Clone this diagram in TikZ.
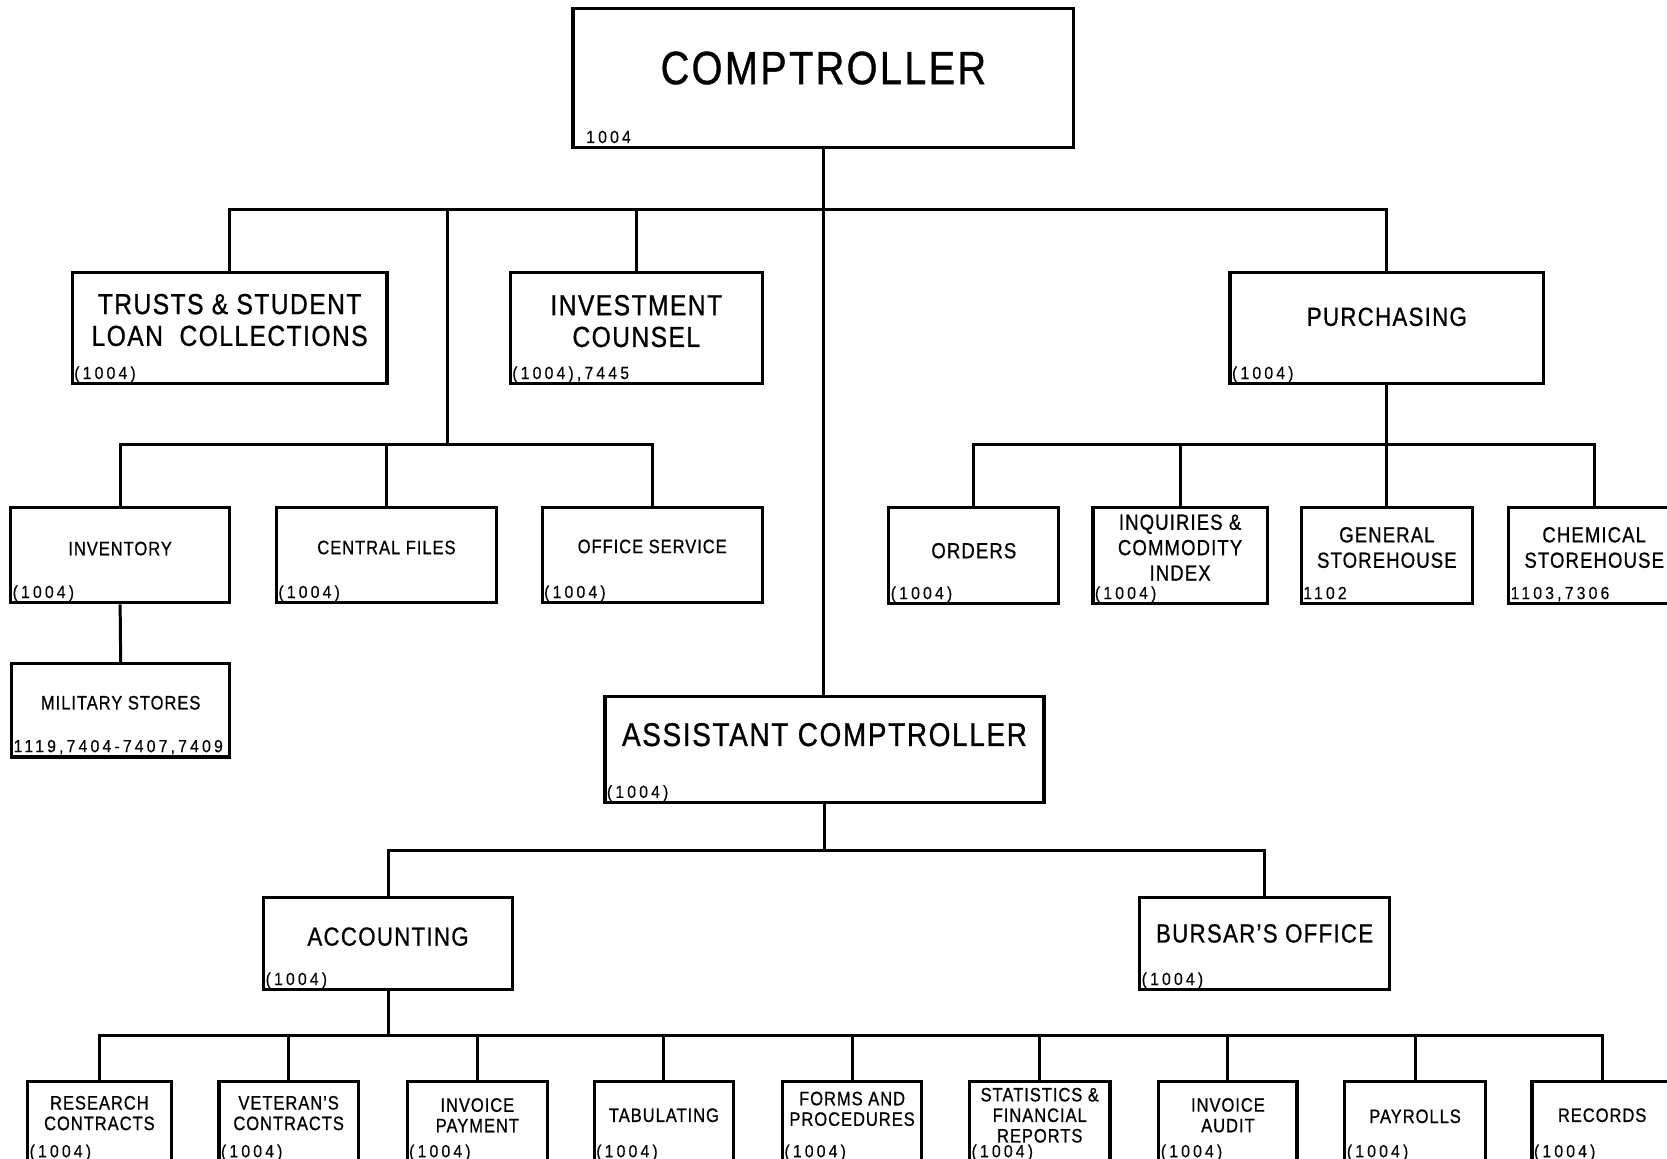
\documentclass[tikz,border=0pt]{standalone}
\usepackage{fontspec}
\setmainfont{Liberation Sans}[FakeStretch=0.85,LetterSpace=5,FakeBold=0.8]
\newfontfamily\codefont{Liberation Sans}[FakeStretch=0.9,LetterSpace=18,FakeBold=0.3]

% box: name, left, top, right, bottom, title y, title style, title, code
\newcommand{\orgunit}[9]{%
  \node[unit, minimum width={(#4-#2)*0.02cm}, minimum height={(#5-#3)*0.02cm}]
    (#1) at ({(#2+#4)/2},{(#3+#5)/2}) {};
  \node[#7] (#1-title) at ({(#2+#4)/2},#6) {#8};
  \node[code] (#1-code) at ([shift={(3,-6)}]#1.south west) {#9};
}

\begin{document}
\begin{tikzpicture}[
  x=0.02cm, y=-0.02cm,
  unit/.style={draw, line width=1.7pt, inner sep=0pt},
  link/.style={line width=1.6pt},
  title-huge/.style={font=\fontsize{25}{29}\selectfont, align=center, inner sep=0pt},
  title-big/.style={font=\fontsize{17.6}{20}\selectfont, align=center, inner sep=0pt},
  title-large/.style={font=\fontsize{15.5}{17}\selectfont, align=center, inner sep=0pt},
  title-mid/.style={font=\fontsize{14}{16}\selectfont, align=center, inner sep=0pt},
  title-med/.style={font=\fontsize{11.7}{13.6}\selectfont, align=center, inner sep=0pt},
  title-small/.style={font=\fontsize{10.4}{11}\selectfont, align=center, inner sep=0pt},
  code/.style={font=\codefont\fontsize{9.4}{11}\selectfont, anchor=base west, inner sep=0pt}
]
\useasboundingbox (0,0) rectangle (1568,1090);
\clip (0,0) rectangle (1568,1090);

% top level
\orgunit{comp}{539}{8}{1010}{139}{64}{title-huge}{COMPTROLLER}{\hspace{6pt}1004}
\orgunit{trusts}{68}{256}{364}{361}{301}{title-large}{TRUSTS \& STUDENT\\LOAN\ \ COLLECTIONS}{(1004)}
\orgunit{invest}{480}{256}{717}{361}{302}{title-large}{INVESTMENT\\COUNSEL}{(1004),7445}
\orgunit{purch}{1157}{256}{1452}{361}{298}{title-mid}{PURCHASING}{(1004)}

% services
\orgunit{inv}{10}{477}{216}{567}{516}{title-small}{INVENTORY}{(1004)}
\orgunit{files}{260}{477}{467}{567}{515}{title-small}{CENTRAL FILES}{(1004)}
\orgunit{office}{510}{477}{717}{567}{514}{title-small}{OFFICE SERVICE}{(1004)}
\orgunit{military}{11}{624}{216}{712}{661}{title-small}{MILITARY STORES}{1119,7404-7407,7409}

% purchasing
\orgunit{orders}{836}{477}{996}{568}{518}{title-med}{ORDERS}{(1004)}
\orgunit{inquiries}{1028}{477}{1192}{568}{515}{title-med}{INQUIRIES \&\\COMMODITY\\INDEX}{(1004)}
\orgunit{general}{1224}{477}{1385}{568}{515}{title-med}{GENERAL\\STOREHOUSE}{1102}
\orgunit{chemical}{1419}{477}{1580}{568}{515}{title-med}{CHEMICAL\\STOREHOUSE}{1103,7306}

% assistant comptroller
\orgunit{asst}{569}{655}{982}{755}{691}{title-big}{ASSISTANT COMPTROLLER}{(1004)}
\orgunit{acct}{248}{844}{482}{931}{881}{title-mid}{ACCOUNTING}{(1004)}
\orgunit{bursar}{1072}{844}{1307}{931}{878}{title-mid}{BURSAR'S OFFICE}{(1004)}

% accounting sections
\orgunit{research}{26}{1017}{161}{1093}{1047}{title-small}{RESEARCH\\CONTRACTS}{(1004)}
\orgunit{veteran}{206}{1017}{337}{1093}{1047}{title-small}{VETERAN'S\\CONTRACTS}{(1004)}
\orgunit{invpay}{383}{1017}{515}{1093}{1049}{title-small}{INVOICE\\PAYMENT}{(1004)}
\orgunit{tab}{559}{1017}{690}{1093}{1049}{title-small}{TABULATING}{(1004)}
\orgunit{forms}{736}{1017}{867}{1093}{1043}{title-small}{FORMS AND\\PROCEDURES}{(1004)}
\orgunit{stats}{912}{1017}{1044}{1093}{1049}{title-small}{STATISTICS \&\\FINANCIAL\\REPORTS}{(1004)}
\orgunit{audit}{1090}{1017}{1220}{1093}{1049}{title-small}{INVOICE\\AUDIT}{(1004)}
\orgunit{payrolls}{1265}{1017}{1397}{1093}{1050}{title-small}{PAYROLLS}{(1004)}
\orgunit{records}{1441}{1017}{1573}{1093}{1049}{title-small}{RECORDS}{(1004)}

% bus levels
\coordinate (top-bus) at (774,197);
\coordinate (svc-bus) at (421,418);
\coordinate (pur-bus) at (1305,418);
\coordinate (asst-bus) at (776,800);
\coordinate (acct-bus) at (364,974);

\draw[link] (comp.south) -- (comp.south |- asst.north);
\draw[link] (trusts.north) |- (purch.north |- top-bus) -- (purch.north);
\draw[link] (invest.north) -- (invest.north |- top-bus);
\draw[link] (svc-bus |- top-bus) -- (svc-bus);
\draw[link] (inv.north) |- (office.north |- svc-bus) -- (office.north);
\draw[link] (files.north) -- (files.north |- svc-bus);
\draw[link] (inv.south) -- (military.north);
\draw[link] (purch.south) -- (purch.south |- pur-bus);
\draw[link] (orders.north) |- (chemical.north |- pur-bus) -- (chemical.north);
\draw[link] (inquiries.north) -- (inquiries.north |- pur-bus);
\draw[link] (general.north) -- (general.north |- pur-bus);
\draw[link] (asst.south) -- (asst.south |- asst-bus);
\draw[link] (acct.north) |- (bursar.north |- asst-bus) -- (bursar.north);
\draw[link] (acct.south) -- (acct.south |- acct-bus);
\draw[link] (research.north) |- (records.north |- acct-bus) -- (records.north);
\draw[link] (veteran.north) -- (veteran.north |- acct-bus);
\draw[link] (invpay.north) -- (invpay.north |- acct-bus);
\draw[link] (tab.north) -- (tab.north |- acct-bus);
\draw[link] (forms.north) -- (forms.north |- acct-bus);
\draw[link] (stats.north) -- (stats.north |- acct-bus);
\draw[link] (audit.north) -- (audit.north |- acct-bus);
\draw[link] (payrolls.north) -- (payrolls.north |- acct-bus);
\end{tikzpicture}
\end{document}
